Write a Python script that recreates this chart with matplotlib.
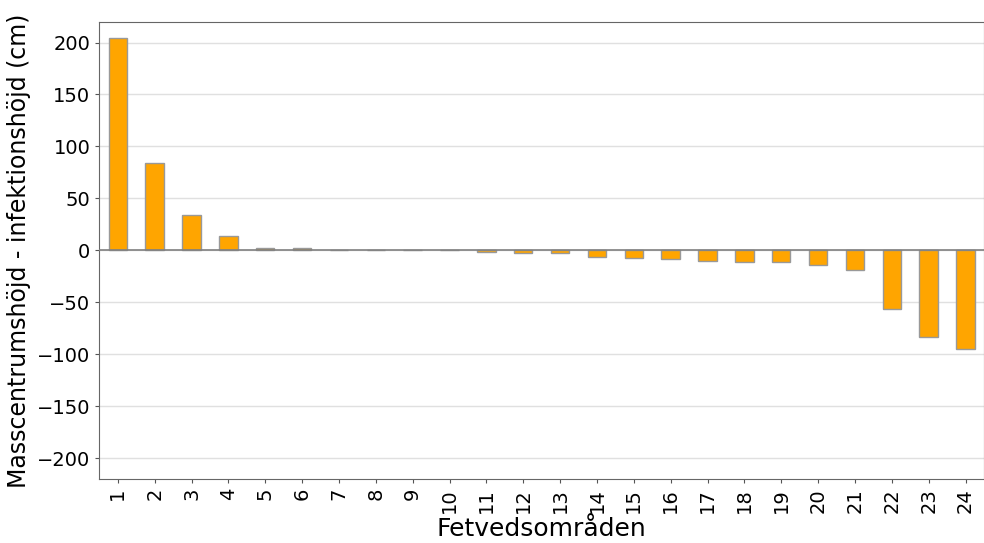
import numpy as np
import matplotlib.pyplot as plt

# height difference per sapwood region (cm)
regions = [str(i) for i in range(1, 25)]
diff_cm = [204.5, 84.5, 34.0, 13.5, 2.0, 2.0, 0.3, 0.2, 0.2, 0.2,
           -1.5, -2.2, -2.2, -6.0, -7.7, -8.4, -10.3, -11.3, -11.3,
           -13.8, -19.3, -56.7, -83.0, -94.7]

fig, ax = plt.subplots(figsize=(9.84, 5.43), dpi=100)
fig.subplots_adjust(left=0.101, right=1.0, top=0.96, bottom=0.118)

x = np.arange(len(regions))
ax.bar(x, diff_cm, width=0.5, color='orange', edgecolor='#999999', linewidth=1, zorder=3)
ax.axhline(0, color='grey', linewidth=1.2, zorder=4)

ax.set_xlim(-0.5, len(regions) - 0.5)
ax.set_ylim(-220, 220)
ax.set_yticks(np.arange(-200, 201, 50))
ax.set_xticks(x)
ax.set_xticklabels(regions, rotation=90)
ax.tick_params(labelsize=14, color='#555555', length=3)
ax.yaxis.grid(True, color='#e0e0e0', linewidth=1, zorder=0)
for s in ax.spines.values():
    s.set_color('#666666')

ax.set_xlabel('Fetvedsomr\u00e5den', fontsize=18, labelpad=3)
ax.set_ylabel('Masscentrumsh\u00f6jd - infektionsh\u00f6jd (cm)', fontsize=17)

fig.savefig('out.png', dpi=100)
